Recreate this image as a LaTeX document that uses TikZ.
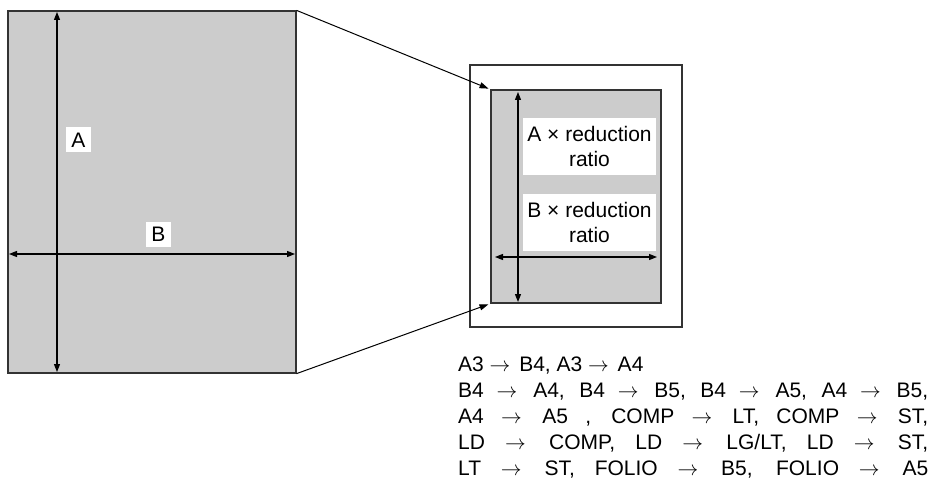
\documentclass[tikz,border=0pt]{standalone}
\usepackage{fontspec}
\setmainfont{Liberation Sans}
\usetikzlibrary{arrows.meta}
\definecolor{sheetgray}{HTML}{CCCCCC}
\definecolor{edgegray}{HTML}{333333}
\newcommand{\fullline}[1]{\makebox[470pt][s]{#1}}
\newcommand{\becomes}{$\rightarrow$\hspace{3pt}\ }
\tikzset{
  sheet/.style={draw=edgegray, fill=sheetgray, line width=1.2pt, inner sep=0pt},
  frame/.style={draw=edgegray, line width=1.2pt, inner sep=0pt},
  dim/.style={{Triangle[length=8pt,width=6pt]}-{Triangle[length=8pt,width=6pt]}, line width=1.3pt},
  lbl/.style={fill=white, inner sep=0pt, font=\fontsize{21}{25}\selectfont},
  zoomline/.style={-{Triangle[length=9pt,width=6pt]}, line width=1pt, shorten >=2pt},
}
\begin{document}
\begin{tikzpicture}[x=1pt,y=-1pt]
\useasboundingbox (0,0) rectangle (932,497);
% original sheet
\node[sheet, minimum width=288pt, minimum height=362pt] (orig) at (152,192) {};
\coordinate (atop) at (57,12); \coordinate (abot) at (57,372);
\coordinate (bleft) at (9,254); \coordinate (bright) at (295,254);
\draw[dim] (atop) -- (abot);
\draw[dim] (bleft) -- (bright);
\node[lbl, minimum size=25pt] (A) at (78.5,140) {A};
\node[lbl, minimum size=25pt] (B) at (158.5,234.5) {B};
% reduced copy
\node[frame, minimum width=212pt, minimum height=262pt] (paper) at (576,196) {};
\node[sheet, minimum width=170pt, minimum height=213pt] (copy) at (576,196.5) {};
\coordinate (rtop) at (518,92); \coordinate (rbot) at (518,302);
\coordinate (rleft) at (495,257); \coordinate (rright) at (657,257);
\draw[dim] (rtop) -- (rbot);
\draw[dim] (rleft) -- (rright);
\node[lbl, minimum width=133pt, minimum height=57pt, align=center] (ared) at (589.5,146.5) {A × reduction\\ratio};
\node[lbl, minimum width=133pt, minimum height=57pt, align=center] (bred) at (589.5,222.5) {B × reduction\\ratio};
\draw[zoomline] (orig.north east) -- (copy.north west);
\draw[zoomline] (orig.south east) -- (copy.south west);
% size pairs
\node[anchor=north west, align=left, inner sep=0pt, font=\fontsize{21}{26}\selectfont] (pairs) at (458,357) {%
A3 \becomes B4, A3 \becomes A4\\
\fullline{B4 \becomes A4, B4 \becomes B5, B4 \becomes A5, A4 \becomes B5,}\\
\fullline{A4 \becomes A5 , COMP \becomes LT, COMP \becomes ST,}\\
\fullline{LD \becomes COMP, LD \becomes LG/LT, LD \becomes ST,}\\
\fullline{LT \becomes ST, FOLIO \becomes B5, FOLIO \becomes A5}};
\end{tikzpicture}
\end{document}
